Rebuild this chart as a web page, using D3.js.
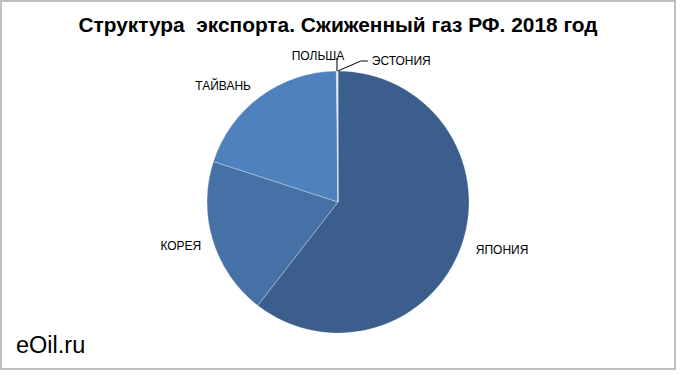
<!DOCTYPE html>
<html>
<head>
<meta charset="utf-8">
<script src="https://cdn.jsdelivr.net/npm/d3@7"></script>
<style>
  body { margin: 0; background: #fff; }
  text { font-family: "Liberation Sans", Arial, sans-serif; }
</style>
</head>
<body>
<svg id="chart" width="680" height="375"></svg>
<script>
// данные: доли экспорта СПГ, %
var countries = ["ЯПОНИЯ", "КОРЕЯ", "ТАЙВАНЬ", "ПОЛЬША", "ЭСТОНИЯ"];
var shares = [60.5, 19.5, 19.8, 0.15, 0.05];
var colors = ["#3b5e8c", "#4571a7", "#4f81bd", "#b9cce4", "#d3dfee"];
var title = "Структура  экспорта. Сжиженный газ РФ. 2018 год";

var width = 680, height = 375;
var cx = 338, cy = 202, radius = 131;

var svg = d3.select("#chart");

svg.append("rect")
    .attr("x", 1).attr("y", 1)
    .attr("width", 674).attr("height", 368)
    .attr("fill", "#fff")
    .attr("stroke", "#bfbfbf")
    .attr("stroke-width", 2);

svg.append("text")
    .attr("x", cx).attr("y", 32)
    .attr("text-anchor", "middle")
    .attr("font-size", 20.5)
    .attr("font-weight", "bold")
    .style("white-space", "pre")
    .attr("textLength", 519)
    .attr("lengthAdjust", "spacingAndGlyphs")
    .text(title);

svg.append("text")
    .attr("x", 16).attr("y", 353)
    .attr("font-size", 23.5)
    .text("eOil.ru");

var data = countries.map(function (c, i) {
    return { name: c, value: shares[i], color: colors[i] };
});

var pie = d3.pie().sort(null).value(function (d) { return d.value; });
var arc = d3.arc().innerRadius(0).outerRadius(radius);
var arcs = pie(data);

var g = svg.append("g").attr("transform", "translate(" + cx + "," + cy + ")");

g.selectAll("path")
    .data(arcs)
    .enter().append("path")
    .attr("d", arc)
    .attr("fill", function (d) { return d.data.color; })
    .attr("stroke", "rgba(255,255,255,0.35)")
    .attr("stroke-width", 0.8);

// подписи: большие сектора — рядом с дугой, мелкие — с выносками
var leaders = {
    "ПОЛЬША": { dx: 0, dy: -13, tx: -19, ty: -15, anchor: "middle", elbow: 0 },
    "ЭСТОНИЯ": { dx: 23, dy: -10, tx: 34, ty: -10, anchor: "start", elbow: 7 }
};
var nudge = {
    "ЯПОНИЯ": [3, -1],
    "ТАЙВАНЬ": [-13, 5]
};

var labelR = 144;
arcs.forEach(function (d) {
    var a = (d.startAngle + d.endAngle) / 2;
    var s = Math.sin(a), c = -Math.cos(a);
    var L = leaders[d.data.name];
    if (L) {
        var px = radius * s, py = radius * c;
        var ex = px + L.dx, ey = py + L.dy;
        var pts = [[px, py], [ex, ey]];
        if (L.elbow) pts.push([ex + L.elbow, ey]);
        g.append("path")
            .attr("d", d3.line()(pts))
            .attr("fill", "none")
            .attr("stroke", "#000")
            .attr("stroke-width", 1);
        g.append("text")
            .attr("x", px + L.tx).attr("y", py + L.ty)
            .attr("dy", "0.35em")
            .attr("text-anchor", L.anchor)
            .attr("font-size", 12)
            .text(d.data.name);
        return;
    }
    var n = nudge[d.data.name] || [0, 0];
    var t = g.append("text")
        .attr("font-size", 12)
        .attr("text-anchor", "middle")
        .attr("dy", "0.35em")
        .text(d.data.name);
    var w = t.node().getBBox().width, h = 12;
    t.attr("x", labelR * s + s * w / 2 + n[0])
     .attr("y", labelR * c + c * h / 2 + n[1]);
});
</script>
</body>
</html>
